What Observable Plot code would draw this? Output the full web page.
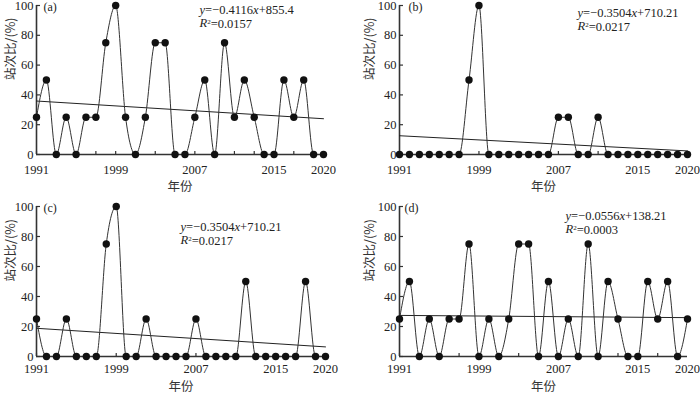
<!DOCTYPE html>
<html><head><meta charset="utf-8">
<script src="https://cdn.jsdelivr.net/npm/d3@7"></script>
<script src="https://cdn.jsdelivr.net/npm/@observablehq/plot@0.6"></script>
<style>
body{margin:0;background:#fff;}
#chart{position:relative;width:700px;height:394px;overflow:hidden;background:#fff;}
#chart > div{position:absolute;}
#chart svg{overflow:visible;}
</style></head><body><div id="chart"></div>
<script>
// ---- data ----
const years = [1991,1992,1993,1994,1995,1996,1997,1998,1999,2000,2001,2002,2003,2004,2005,
               2006,2007,2008,2009,2010,2011,2012,2013,2014,2015,2016,2017,2018,2019,2020];
const seriesA = [25,50,0,25,0,25,25,75,100,25,0,25,75,75,0,0,25,50,0,75,25,50,25,0,0,50,25,50,0,0];
const seriesB = [0,0,0,0,0,0,0,50,100,0,0,0,0,0,0,0,25,25,0,0,25,0,0,0,0,0,0,0,0,0];
const seriesC = [25,0,0,25,0,0,0,75,100,0,0,25,0,0,0,0,25,0,0,0,0,50,0,0,0,0,0,50,0,0];
const seriesD = [25,50,0,25,0,25,25,75,0,25,0,25,75,75,0,50,0,25,0,75,0,50,25,0,0,50,25,50,0,25];
const trendYears = [1991, 2020];
const trendA = [35.9, 24.0];
const trendB = [12.6, 2.4];
const trendC = [18.8, 6.4];
const trendD = [27.4, 25.9];
const panelLabels = ["(a)", "(b)", "(c)", "(d)"];
const equations = ["y=−0.4116x+855.4", "y=−0.3504x+710.21", "y=−0.3504x+710.21", "y=−0.0556x+138.21"];
const r2Values = ["0.0157", "0.0217", "0.0217", "0.0003"];
const xTickLabels = [1991, 1999, 2007, 2015, 2020];
const xMinorTicks = [1991,1993,1995,1997,1999,2001,2003,2005,2007,2009,2011,2013,2015,2017,2019];
const yTicks = [0, 20, 40, 60, 80, 100];
const yLabel = "站次比/(%)";
const xLabel = "年份";

// ---- layout ----
const layouts = [
  {series: seriesA, trend: trendA, left: 0,   top: 0,   ml: 36, mr: 27, mt: 5, mb: 43, lblDx: 7, eqDx: 163, eqDy: 4,  ylDx: -26, xlDy: 36, tp: 11},
  {series: seriesB, trend: trendB, left: 350, top: 0,   ml: 49, mr: 13, mt: 5, mb: 43, lblDx: 9, eqDx: 178, eqDy: 7,  ylDx: -30, xlDy: 36, tp: 11},
  {series: seriesC, trend: trendC, left: 0,   top: 197, ml: 36, mr: 25, mt: 9, mb: 38, lblDx: 7, eqDx: 144, eqDy: 20, ylDx: -26, xlDy: 34, tp: 8},
  {series: seriesD, trend: trendD, left: 350, top: 197, ml: 49, mr: 13, mt: 9, mb: 38, lblDx: 5, eqDx: 166, eqDy: 9,  ylDx: -30, xlDy: 34, tp: 8}
];

const serif = "'Liberation Serif','Times New Roman','Noto Sans CJK SC',serif";
const cjk = "'Noto Sans CJK SC','Liberation Serif',sans-serif";
const chart = document.getElementById("chart");

layouts.forEach((L, i) => {
  const pts = years.map((y, k) => ({year: y, value: L.series[k]}));
  const tr = trendYears.map((y, k) => ({year: y, value: L.trend[k]}));
  const plot = Plot.plot({
    width: 350, height: 197,
    marginLeft: L.ml, marginRight: L.mr, marginTop: L.mt, marginBottom: L.mb,
    style: {fontFamily: serif, fontSize: "12px", color: "#222", background: "transparent", overflow: "visible"},
    x: {domain: [1991, 2020]},
    y: {domain: [0, 100]},
    marks: [
      Plot.axisY(yTicks, {tickSize: 0, tickPadding: 3, label: null, fontSize: 12.5, fill: "#222"}),
      Plot.axisY(yTicks, {tickSize: 4, dx: 4, tickFormat: () => "", label: null, stroke: "#333", strokeWidth: 1.2}),
      Plot.axisX(xTickLabels, {tickSize: 0, tickPadding: L.tp, tickFormat: d => String(d), label: null, fontSize: 12.5, fill: "#222"}),
      Plot.axisX(xMinorTicks, {tickSize: 3, dy: -3, tickFormat: () => "", label: null, stroke: "#333", strokeWidth: 1.2}),
      Plot.ruleY([0], {stroke: "#333", strokeWidth: 1.6}),
      Plot.ruleX([1991], {stroke: "#333", strokeWidth: 1.6}),
      Plot.line(tr, {x: "year", y: "value", stroke: "#222", strokeWidth: 1}),
      Plot.line(pts, {x: "year", y: "value", curve: "monotone-x", stroke: "#333", strokeWidth: 1}),
      Plot.dot(pts, {x: "year", y: "value", r: 3.7, fill: "#111", stroke: "none"}),
      Plot.text([panelLabels[i]], {frameAnchor: "top-left", dx: L.lblDx, dy: 2, textAnchor: "start", lineAnchor: "middle", fontSize: 12, fill: "#222"}),
      Plot.text([equations[i]], {frameAnchor: "top-left", dx: L.eqDx, dy: L.eqDy, textAnchor: "start", lineAnchor: "middle", fontSize: 12.5, fill: "#222"}),
      Plot.text(["R2=" + r2Values[i]], {frameAnchor: "top-left", dx: L.eqDx, dy: L.eqDy + 13.5, textAnchor: "start", lineAnchor: "middle", fontSize: 12.5, fill: "#222"}),
      Plot.text([yLabel], {frameAnchor: "left", dx: L.ylDx, rotate: -90, fontSize: 12.5, fontFamily: cjk, fill: "#333"}),
      Plot.text([xLabel], {frameAnchor: "bottom", dy: L.xlDy, fontSize: 12.5, fontFamily: cjk, fill: "#333"})
    ]
  });
  // rich text: italic variables and superscript
  d3.select(plot).selectAll("text").each(function() {
    const t = this.textContent;
    if (t.startsWith("y=")) {
      const m = t.match(/^y=(.*?)x(.*)$/);
      const sel = d3.select(this); sel.text("");
      sel.append("tspan").attr("font-style", "italic").text("y");
      sel.append("tspan").text("=" + m[1]);
      sel.append("tspan").attr("font-style", "italic").text("x");
      sel.append("tspan").text(m[2]);
    } else if (t.startsWith("R2=")) {
      const sel = d3.select(this); sel.text("");
      sel.append("tspan").attr("font-style", "italic").text("R");
      sel.append("tspan").attr("font-size", "7px").attr("dy", "-0.45em").text("2");
      sel.append("tspan").attr("dy", "0.3em").text(t.slice(2));
    }
  });
  const wrap = document.createElement("div");
  wrap.style.left = L.left + "px";
  wrap.style.top = L.top + "px";
  wrap.appendChild(plot);
  chart.appendChild(wrap);
});
</script>
</body></html>
